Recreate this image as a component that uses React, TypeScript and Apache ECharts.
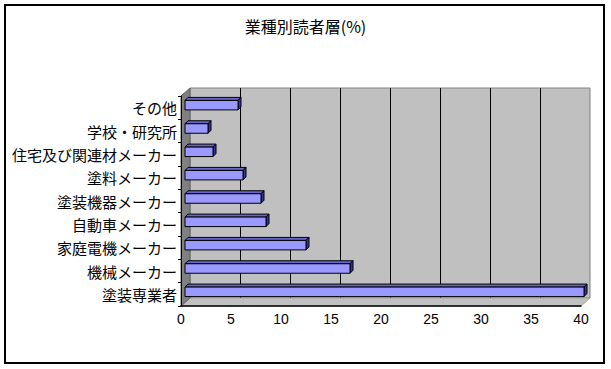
import React, { useEffect, useRef } from "react";
import * as echarts from "echarts";

const titleText = "業種別読者層(%)";
const categories = [
  "その他",
  "学校・研究所",
  "住宅及び関連材メーカー",
  "塗料メーカー",
  "塗装機器メーカー",
  "自動車メーカー",
  "家庭電機メーカー",
  "機械メーカー",
  "塗装専業者",
];
const values = [5.3, 2.3, 2.8, 5.8, 7.6, 8.1, 12.1, 16.5, 39.9];
const xMin = 0;
const xMax = 40;
const xStep = 5;
const gridTicks = [5, 10, 15, 20, 25, 30, 35];

const JP = '"Noto Sans CJK JP", "Noto Sans", sans-serif';

export default function App() {
  const ref = useRef<HTMLDivElement>(null);
  useEffect(() => {
    if (!ref.current) return;
    const chart = echarts.init(ref.current, null, { renderer: "svg" });
    const DX = 9;
    const DY = 8;
    const option: any = {
      animation: false,
      backgroundColor: "#ffffff",
      title: {
        text: titleText,
        left: "center",
        top: 13,
        textStyle: { fontFamily: JP, fontSize: 16, fontWeight: "normal", color: "#000" },
      },
      grid: [
        {
          left: 190,
          top: 88,
          width: 400,
          height: 210,
          show: true,
          backgroundColor: "#C0C0C0",
          borderColor: "#808080",
          borderWidth: 1,
          z: 0,
        },
        {
          left: 181,
          top: 96,
          width: 400,
          height: 210,
          show: false,
        },
      ],
      xAxis: [
        {
          gridIndex: 0,
          type: "value",
          min: xMin,
          max: xMax,
          interval: xStep,
          axisLine: { show: false },
          axisTick: { show: false },
          axisLabel: { show: false },
          splitLine: { show: false },
        },
        {
          gridIndex: 1,
          type: "value",
          min: xMin,
          max: xMax,
          interval: xStep,
          axisLine: { show: true, lineStyle: { color: "#000", width: 1.5 } },
          axisTick: { show: false },
          axisLabel: { fontFamily: "Liberation Sans, Arial, sans-serif", fontSize: 14, color: "#000", margin: 6 },
          splitLine: { show: false },
          z: 5,
        },
      ],
      yAxis: [
        {
          gridIndex: 0,
          type: "category",
          data: categories,
          inverse: true,
          show: false,
        },
        {
          gridIndex: 1,
          type: "category",
          data: categories,
          inverse: true,
          axisLine: { show: true, lineStyle: { color: "#000", width: 1 } },
          axisTick: { show: true, length: 3, lineStyle: { color: "#000" } },
          axisLabel: { fontFamily: JP, fontSize: 15, color: "#000", margin: 4 },
          splitLine: { show: false },
          z: 5,
        },
      ],
      graphic: [
        {
          type: "rect",
          shape: { x: 5, y: 5, width: 599, height: 358 },
          style: { fill: "none", stroke: "#000", lineWidth: 2 },
          z: 10,
        },
      ],
      series: [
        {
          // back-wall gridlines
          type: "custom",
          xAxisIndex: 0,
          yAxisIndex: 0,
          z: 1,
          data: gridTicks.map((t) => [t]),
          renderItem: (params: any, api: any) => {
            const t = api.value(0);
            const top = api.coord([t, categories[0]]);
            const x = Math.round(top[0]) + 0.5;
            const y0 = 88;
            const y1 = 298;
            return {
              type: "group",
              children: [
                { type: "line", shape: { x1: x, y1: y0, x2: x, y2: y1 }, style: { stroke: "#000", lineWidth: 1 } },
                {
                  type: "line",
                  shape: { x1: x - DX + 4, y1: y1 + DY - 4, x2: x - DX, y2: y1 + DY },
                  style: { stroke: "#000", lineWidth: 1 },
                },
              ],
            };
          },
        },
        {
          // floor and left wall
          type: "custom",
          xAxisIndex: 1,
          yAxisIndex: 1,
          z: 1,
          data: [[0]],
          renderItem: (params: any, api: any) => {
            const a = api.coord([xMin, categories[0]]);
            const bw = api.size([0, 1])[1];
            const xl = a[0];
            const xr = api.coord([xMax, categories[0]])[0];
            const top = a[1] - bw / 2;
            const bot = top + bw * categories.length;
            return {
              type: "group",
              children: [
                {
                  type: "polygon",
                  shape: { points: [[xl + DX, bot - DY], [xr + DX, bot - DY], [xr, bot], [xl, bot]] },
                  style: { fill: "#C0C0C0", stroke: "#A0A0A0", lineWidth: 1 },
                },
                {
                  type: "polygon",
                  shape: { points: [[xl, top], [xl + DX, top - DY], [xl + DX, bot - DY], [xl, bot]] },
                  style: { fill: "#808080", stroke: "#606060", lineWidth: 1 },
                },
              ],
            };
          },
        },
        {
          type: "custom",
          xAxisIndex: 1,
          yAxisIndex: 1,
          z: 3,
          data: values.map((v, i) => [v, i]),
          renderItem: (params: any, api: any) => {
            const v = api.value(0);
            const c = api.value(1);
            const p0 = api.coord([0, c]);
            const p1 = api.coord([v, c]);
            const h = 9.5;
            const d = 3;
            const x1 = p0[0] + 4;
            const x2 = p1[0] + 4;
            const y = p0[1] - 2.5 - h / 2;
            const line = { stroke: "#000", lineWidth: 1 };
            return {
              type: "group",
              children: [
                {
                  type: "polygon",
                  shape: { points: [[x1, y], [x1 + d, y - d], [x2 + d, y - d], [x2, y]] },
                  style: { fill: "#6666CC", ...line },
                },
                {
                  type: "polygon",
                  shape: { points: [[x2, y], [x2 + d, y - d], [x2 + d, y - d + h], [x2, y + h]] },
                  style: { fill: "#333399", ...line },
                },
                {
                  type: "rect",
                  shape: { x: x1, y: y, width: x2 - x1, height: h },
                  style: { fill: "#9999FF", ...line },
                },
              ],
            };
          },
        },
      ],
    };
    chart.setOption(option);
    return () => chart.dispose();
  }, []);
  return (
    <div
      ref={ref}
      style={{ position: "fixed", left: 0, top: 0, width: 611, height: 369 }}
    />
  );
}
